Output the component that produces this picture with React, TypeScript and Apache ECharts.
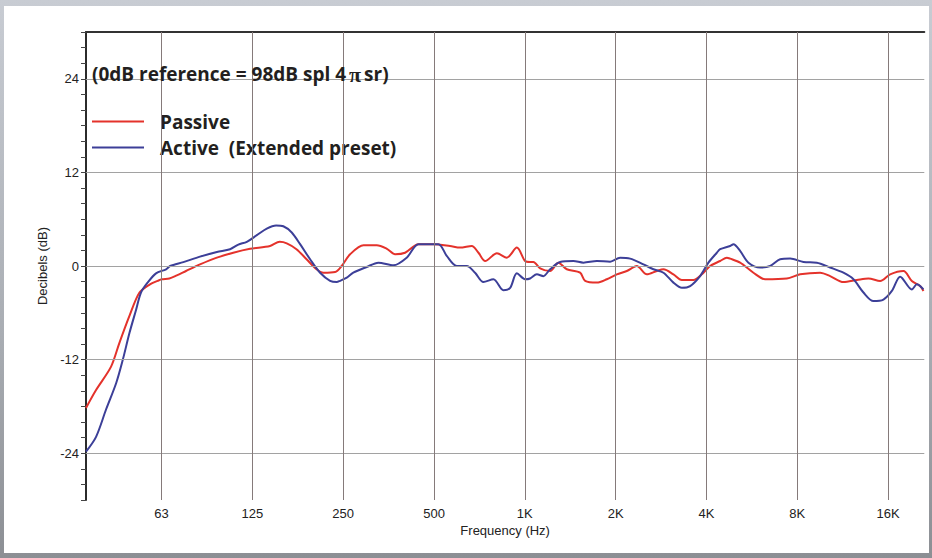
import React, { useEffect, useRef } from "react";
import * as echarts from "echarts";

// Passive response (Hz, dB)
const passiveFreq = [35.1, 37.9, 42.5, 45.3, 48.9, 52.8, 57.2, 60.7, 62.6, 66.3, 70.2, 75.3, 83.8, 95.3, 108, 122.8, 143, 154, 162.5, 175, 189, 204, 215, 235, 247, 263.5, 292, 323, 349, 372, 401, 444, 498, 565, 610, 667, 702, 739, 808, 872, 941, 1002, 1041, 1068, 1124, 1213, 1292, 1378, 1525, 1585, 1733, 1870, 2018, 2178, 2351, 2537, 2739, 2881, 3109, 3315, 3622, 3862, 4114, 4441, 4674, 4793, 5173, 5726, 6261, 7390, 8179, 9528, 10283, 11383, 12610, 13777, 15064, 16258, 17997, 19186, 20440, 20965];
const passiveDb = [-18.2, -15.9, -12.9, -9.85, -6.4, -3.4, -2.35, -1.9, -1.7, -1.6, -1.2, -0.64, 0.2, 1.07, 1.7, 2.2, 2.57, 3.1, 2.9, 2.15, 0.86, -0.42, -0.86, -0.77, 0, 1.5, 2.66, 2.66, 2.2, 1.5, 1.7, 2.8, 2.8, 2.57, 2.36, 2.57, 1.7, 0.64, 1.63, 1.07, 2.36, 0.64, 0.51, 0.51, -0.3, -0.64, 0.43, -0.42, -0.86, -1.9, -2.13, -1.7, -1.07, -0.64, 0, -1.07, -0.64, -0.42, -1.07, -1.8, -1.8, -1.07, 0, 0.64, 1.07, 0.95, 0.43, -0.86, -1.7, -1.6, -1.07, -0.86, -1.29, -2.06, -1.8, -1.6, -1.93, -1.07, -0.64, -1.93, -2.57, -3.2];

// Active (Extended preset) response (Hz, dB)
const activeFreq = [35.1, 37.9, 40.9, 44.2, 46.5, 48.9, 51.45, 53.4, 56.25, 59.9, 64.7, 66.7, 73.8, 83.8, 95.3, 105.4, 112.3, 119.8, 129.3, 139.5, 149.8, 158.3, 168.8, 179.9, 194.2, 209.6, 226.2, 238, 244, 257, 270, 299, 327, 367, 406, 444, 517, 551, 595, 642, 684, 729, 787, 849, 894, 941, 1002, 1041, 1096, 1152, 1213, 1309, 1449, 1564, 1733, 1918, 2070, 2234, 2473, 2669, 2881, 3109, 3315, 3532, 3812, 4061, 4330, 4441, 4793, 4916, 5173, 5512, 6027, 6505, 7021, 7578, 8388, 9291, 10283, 11383, 12286, 13262, 14312, 15447, 16472, 17549, 19186, 19934, 20965];
const activeDb = [-23.8, -21.9, -18.4, -15.0, -12.0, -8.6, -5.6, -3.4, -2.1, -0.94, -0.42, 0, 0.5, 1.2, 1.8, 2.15, 2.75, 3.1, 3.95, 4.8, 5.2, 5.1, 4.3, 2.8, 0.86, -0.86, -1.9, -2.06, -1.9, -1.5, -0.86, -0.13, 0.43, 0.09, 1.07, 2.8, 2.8, 1.3, 0, 0, -0.86, -2.06, -1.7, -3.1, -2.8, -0.94, -1.7, -1.6, -1.07, -1.3, -0.42, 0.51, 0.64, 0.43, 0.64, 0.56, 1.07, 0.95, 0.21, -0.42, -0.86, -2.13, -2.8, -2.57, -1.29, 0.43, 1.7, 2.15, 2.57, 2.8, 1.93, 0.43, -0.2, 0, 0.86, 0.95, 0.51, 0.43, -0.2, -0.86, -1.7, -3.4, -4.5, -4.3, -3.2, -1.37, -3.0, -2.35, -3.0];

const freqTicks = [62.5, 125, 250, 500, 1000, 2000, 4000, 8000, 16000];
const freqTickLabels = ["63", "125", "250", "500", "1K", "2K", "4K", "8K", "16K"];
const dbGridValues = [24, 12, 0, -12, -24];

const seriesNames = ["Passive", "Active  (Extended preset)"];
const titleText = ["(0dB reference = 98dB spl 4", "π", "sr)"];

const X_MIN = 35.1;
const X_MAX = 21100;

export default function App() {
  const ref = useRef<HTMLDivElement>(null);

  useEffect(() => {
    if (!ref.current) return;
    const chart = echarts.init(ref.current, null, { renderer: "svg" });
    const sans = "'Liberation Sans', Arial, sans-serif";
    const bold = "'Open Sans', 'Noto Sans', sans-serif";

    const hLines = dbGridValues.map((v) => ({
      yAxis: v,
      lineStyle: { color: "#a2a2a2", width: 1, type: "solid" },
      label: { show: false },
    }));
    const vLines = freqTicks.map((f, i) => ({
      xAxis: f,
      lineStyle: { color: "#857a7a", width: 1, type: "solid" },
      label: {
        show: true,
        position: "start",
        formatter: freqTickLabels[i],
        distance: 7,
        color: "#222",
        fontSize: 13,
        fontFamily: sans,
      },
    }));

    chart.setOption({
      animation: false,
      backgroundColor: "#ffffff",
      title: {
        left: 88,
        top: 57,
        padding: 0,
        text: `{a|${titleText[0]}}{p|${titleText[1]}}{a|${titleText[2]}}`,
        textStyle: {
          rich: {
            a: { fontSize: 19, fontWeight: "bold", fontFamily: bold, color: "#231f20" },
            p: { fontSize: 22, fontFamily: "'Liberation Serif', serif", color: "#231f20", padding: [0, 3, 0, 3] },
          },
        },
      },
      legend: {
        left: 88,
        top: 106,
        padding: 0,
        orient: "vertical",
        icon: "rect",
        itemWidth: 52,
        itemHeight: 2,
        itemGap: 7,
        data: seriesNames,
        textStyle: {
          fontSize: 19,
          fontWeight: "bold",
          fontFamily: bold,
          color: "#231f20",
          padding: [0, 0, 0, 11],
        },
      },
      grid: { left: 82, top: 26, right: 4.7, bottom: 53, containLabel: false },
      xAxis: [
        {
          type: "log",
          logBase: 2,
          min: X_MIN,
          max: X_MAX,
          position: "bottom",
          name: "Frequency (Hz)",
          nameLocation: "middle",
          nameGap: 24,
          nameTextStyle: { fontSize: 13, fontFamily: sans, color: "#222" },
          axisLine: { show: false, onZero: false },
          axisTick: { show: false },
          axisLabel: { show: false },
          splitLine: { show: false },
        },
        {
          type: "log",
          logBase: 2,
          min: X_MIN,
          max: X_MAX,
          position: "top",
          axisLine: { show: true, onZero: false, lineStyle: { color: "#333", width: 2 } },
          axisTick: { show: false },
          axisLabel: { show: false },
          splitLine: { show: false },
        },
      ],
      yAxis: {
        type: "value",
        min: -30,
        max: 30,
        interval: 2,
        name: "Decibels (dB)",
        nameLocation: "middle",
        nameGap: 31,
        nameRotate: 90,
        nameTextStyle: { fontSize: 13, fontFamily: sans, color: "#222" },
        axisLine: { show: true, onZero: false, lineStyle: { color: "#2b2b2b", width: 2 } },
        axisTick: { show: true, length: 5, lineStyle: { color: "#444", width: 1 } },
        axisLabel: {
          formatter: (v: number) => (v % 12 === 0 ? String(v) : ""),
          margin: 7,
          fontSize: 13,
          fontFamily: sans,
          color: "#222",
        },
        splitLine: { show: false },
      },
      series: [
        {
          type: "line",
          name: "grid",
          data: [],
          z: 1,
          silent: true,
          markLine: {
            silent: true,
            symbol: ["none", "none"],
            animation: false,
            data: [...hLines, ...vLines],
          },
        },
        {
          type: "line",
          name: seriesNames[0],
          data: passiveFreq.map((f, i) => [f, passiveDb[i]]),
          symbol: "none",
          showSymbol: false,
          smooth: 0.3,
          z: 3,
          color: "#e4322b",
          lineStyle: { color: "#e4322b", width: 2 },
        },
        {
          type: "line",
          name: seriesNames[1],
          data: activeFreq.map((f, i) => [f, activeDb[i]]),
          symbol: "none",
          showSymbol: false,
          smooth: 0.3,
          z: 4,
          color: "#3c3f98",
          lineStyle: { color: "#3c3f98", width: 2 },
        },
      ],
    });

    return () => chart.dispose();
  }, []);

  return (
    <div
      style={{
        position: "fixed",
        left: 0,
        top: 0,
        width: 932,
        height: 558,
        background: "linear-gradient(to bottom, #c8ccd3 0%, #a9adb3 60%, #8c8f94 100%)",
      }}
    >
      <div
        ref={ref}
        style={{ position: "absolute", left: 4, top: 6, width: 925, height: 547, background: "#fff" }}
      />
    </div>
  );
}
